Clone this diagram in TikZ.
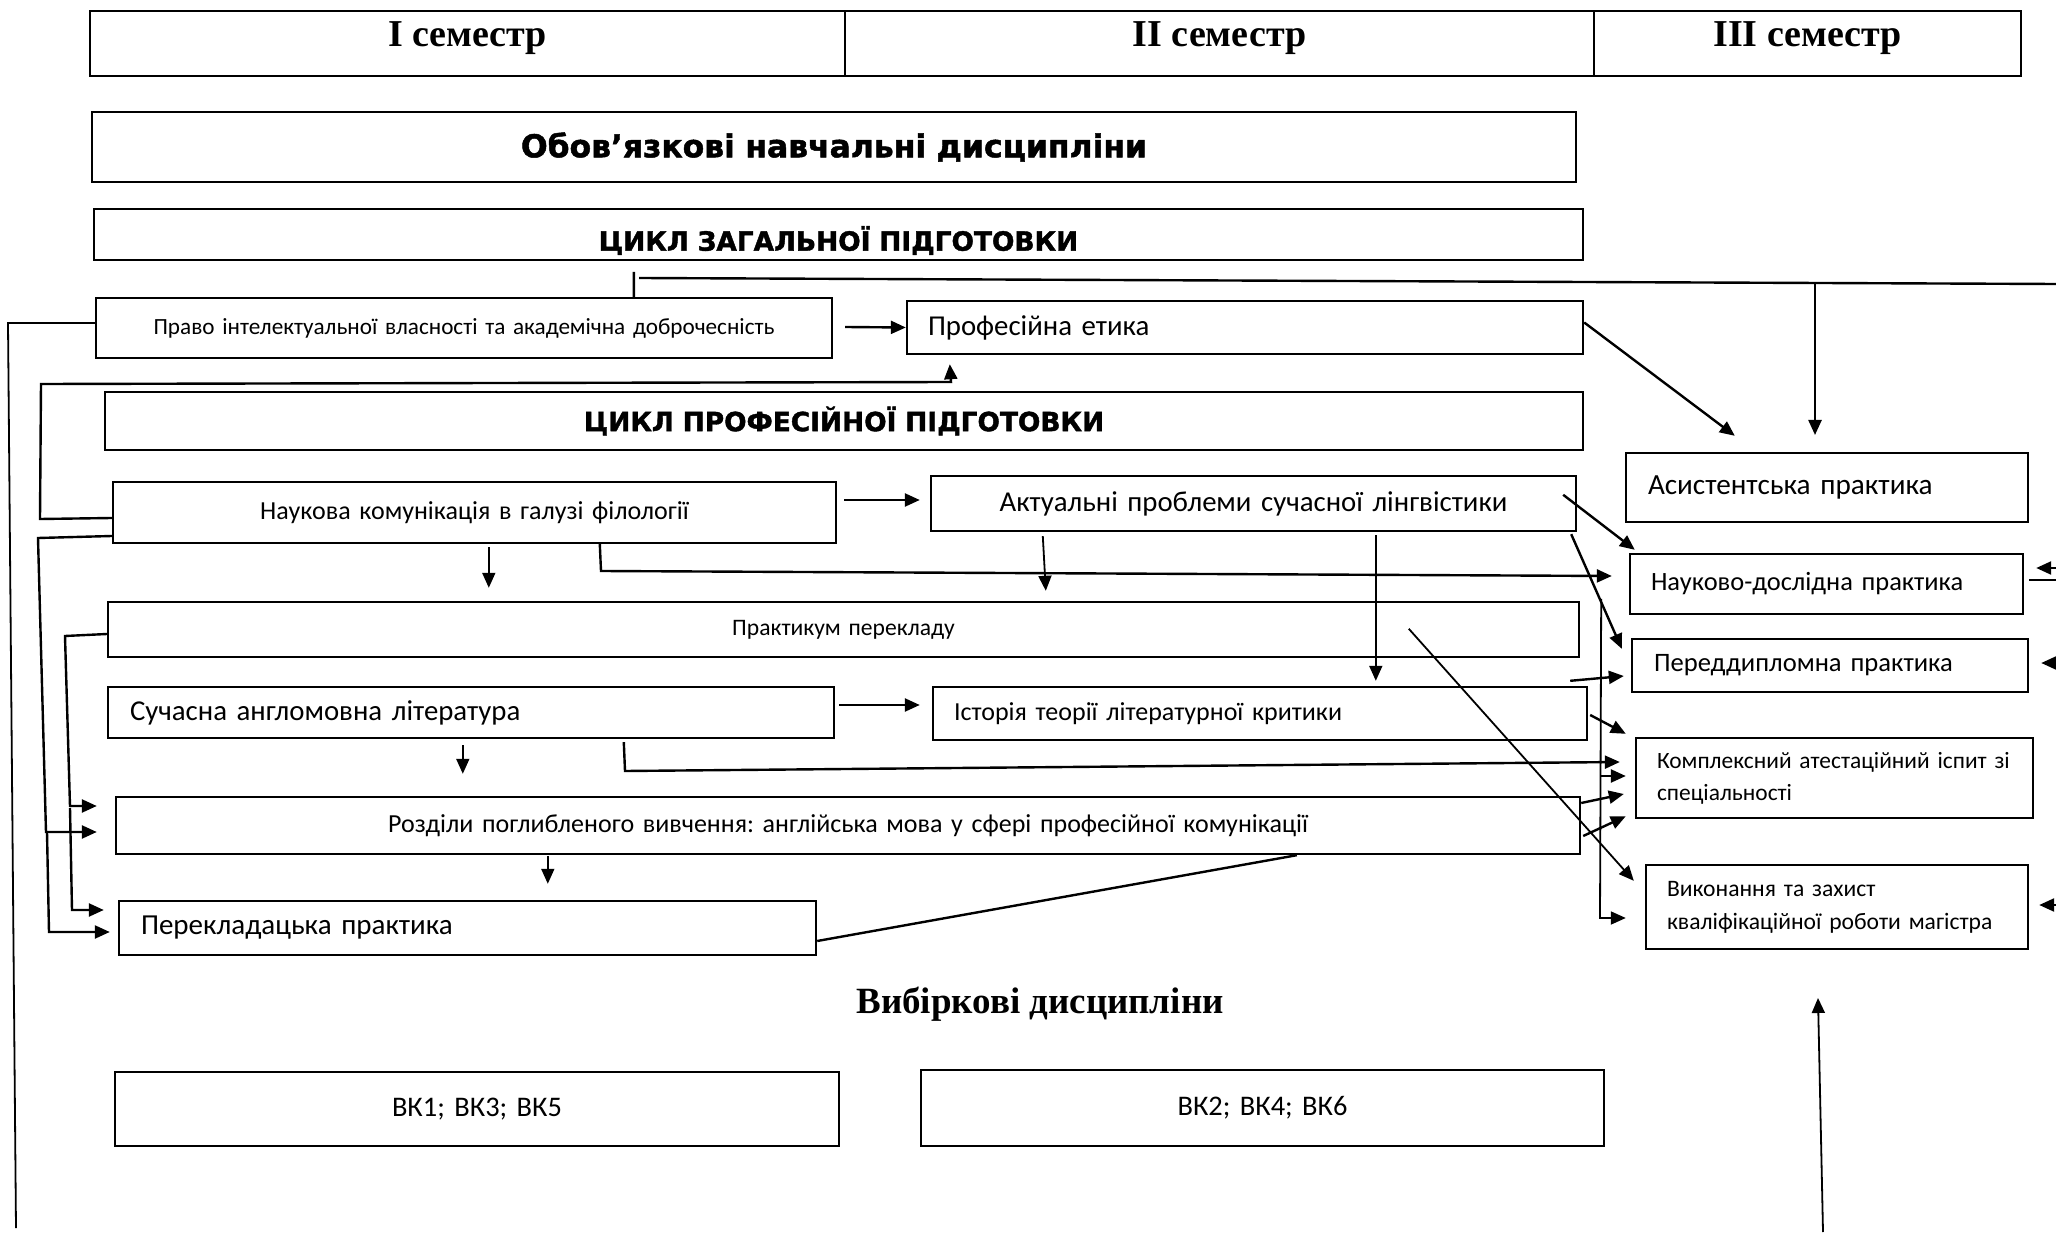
\documentclass[tikz,border=0pt]{standalone}
\usepackage{fontspec}
\setmainfont{Carlito}
\newfontfamily\djv{DejaVu Sans}[BoldFeatures={FakeBold=1.5}]
\newfontfamily\lser{Liberation Serif}
\usetikzlibrary{arrows.meta,calc}
\frenchspacing
\newcommand\fsz[2]{\fontsize{#1pt}{#2pt}\selectfont}
\newcommand\bnode[8]{%
  \pgfmathsetmacro\bw{(#4-#2-2*#6)*0.5}%
  \pgfmathsetmacro\bh{(#5-#3)*0.5}%
  \pgfmathsetmacro\bp{#6*0.5}%
  \node[bx, inner xsep=\bp pt, text width=\bw pt, minimum height=\bh pt, #7] (#1) at ({(#2+#4)/2},{(#3+#5)/2}) {#8};}
\tikzset{
  bx/.style={draw, line width=1.2pt, rectangle, inner ysep=0pt, align=center},
  hd/.style={draw, line width=1.3pt, inner sep=0pt, text height=18pt, text depth=14.5pt,
    minimum height=32.5pt, font={\lser\bfseries\fsz{19}{22}}},
  cyc/.style={font={\djv\bfseries\fsz{13.2}{16}}},
  ln/.style={line width=1.2pt},
  lnt/.style={line width=0.9pt},
  ar/.style={line width=1.2pt, -{Triangle[length=7.5pt,width=6.5pt]}},
  art/.style={line width=0.9pt, -{Triangle[length=7.5pt,width=6.5pt]}}
}
\begin{document}
\begin{tikzpicture}[x=0.5pt,y=-0.5pt]
\useasboundingbox (0,0) rectangle (2056,1235);
\fill[white] (0,0) rectangle (2056,1235);

% header
\node[hd, minimum width=377.5pt] (s1) at (467.5,43.5) {I семестр};
\node[hd, minimum width=374.5pt] (s2) at (1219.5,43.5) {II семестр};
\node[hd, minimum width=213.5pt] (s3) at (1807.5,43.5) {III семестр};

% boxes
\bnode{oblig}{92}{112}{1576}{182}{10}{font={\djv\bfseries\fsz{15.7}{18}}}{Обов’язкові навчальні дисципліни}
\bnode{zag}{94}{209}{1583}{260}{10}{cyc}{\raisebox{-3pt}[\height][\depth]{ЦИКЛ ЗАГАЛЬНОЇ ПІДГОТОВКИ}}
\bnode{pravo}{96}{298}{832}{358}{10}{font={\fsz{11.6}{14}}}{Право інтелектуальної власності та академічна доброчесність}
\bnode{etyka}{907}{301}{1583}{354}{21}{align=left, font={\fsz{14.4}{17}}}{Професійна етика}
\bnode{prof}{105}{392}{1583}{450}{10}{cyc}{ЦИКЛ ПРОФЕСІЙНОЇ ПІДГОТОВКИ}
\bnode{nauk}{113}{482}{836}{543}{10}{font={\fsz{13}{16}}}{Наукова комунікація в галузі філології}
\bnode{aktu}{931}{476}{1576}{531}{10}{font={\fsz{14.4}{17}}}{Актуальні проблеми сучасної лінгвістики}
\bnode{prak}{108}{602}{1579}{657}{10}{font={\fsz{11.8}{14}}}{Практикум перекладу}
\bnode{such}{108}{687}{834}{738}{22}{align=left, font={\fsz{14.4}{17}}}{Сучасна англомовна література}
\bnode{ist}{933}{687}{1587}{740}{21}{align=left, font={\fsz{13}{16}}}{Історія теорії літературної критики}
\bnode{rozd}{116}{797}{1580}{854}{10}{font={\fsz{13}{16}}}{Розділи поглибленого вивчення: англійська мова у сфері професійної комунікації}
\bnode{perek}{119}{901}{816}{955}{22}{align=left, font={\fsz{14.5}{17}}}{Перекладацька практика}
\bnode{asyst}{1626}{453}{2028}{522}{22}{align=left, font={\fsz{14.6}{17}}}{Асистентська практика}
\bnode{nd}{1630}{554}{2023}{614}{21}{align=left, font={\fsz{13.2}{16}}}{Науково-дослідна практика}
\bnode{pd}{1632}{639}{2028}{692}{22}{align=left, font={\fsz{13.3}{16}}}{Переддипломна практика}
\bnode{kompl}{1636}{738}{2033}{818}{21}{align=left, font={\fsz{11.7}{16}}}{Комплексний атестаційний іспит зі\\спеціальності}
\bnode{vyk}{1646}{865}{2028}{949}{21}{align=left, font={\fsz{11.8}{16.5}}}{Виконання та захист\\кваліфікаційної роботи магістра}
\bnode{vk1}{115}{1072}{839}{1146}{10}{font={\fsz{14.2}{17}}}{ВК1; ВК3; ВК5}
\bnode{vk2}{921}{1070}{1604}{1146}{10}{font={\fsz{14.2}{17}}}{ВК2; ВК4; ВК6}
\node[font={\lser\bfseries\fsz{18.5}{22}}, anchor=base, inner sep=0pt] (vyb) at (1040,1013) {Вибіркові дисципліни};

% free coordinates
\coordinate (tr) at (2056,284);
\coordinate (a1) at (1815,283);
\coordinate (a2) at (1815,435);
\coordinate (b1) at (1823,1232);
\coordinate (b2) at (1818,998);

% connectors
\draw[ar] ($(pravo.east)+(12,-1)$) -- (etyka.west);
\draw[ln] ($(pravo.north west)+(539,2)$) -- ++(0,-27) (639,278) -- (tr);
\draw[ar] (a1) -- (a2);
\draw[ar] ($(etyka.east)+(0,-5)$) -- ($(asyst.north west)+(110,-16)$);
\draw[ar] ($(nauk.west)+(0,5.5)$) -- (40,519) -- (41,384) -- (951,382) -- ($(etyka.south west)+(44,9)$);
\draw[lnt] ($(pravo.west)+(0,-5)$) -- (8,323) -- (16,1228);
\draw[ar] ($(nauk.west)+(0,23.5)$) -- (38,538) -- (46,832) -- ($(rozd.west)+(-18,6.5)$);
\draw[ar] (47,832) -- (49,932) -- ($(perek.west)+(-8,4)$);
\draw[ar] ($(prak.west)+(0,4.5)$) -- (65,636) -- (70,806) -- ($(rozd.west)+(-18,-19.5)$);
\draw[ar] (70,808) -- (72,910) -- ($(perek.west)+(-14,-18)$);
\draw[ar] ($(nauk.east)+(7,-12.5)$) -- ($(aktu.west)+(-10,-3.5)$);
\draw[art] ($(nauk.south west)+(377,3)$) -- ($(prak.north west)+(382,-13)$);
\draw[ar] ($(nauk.south west)+(488,0)$) -- (601,571) -- ($(nd.west)+(-17,-8)$);
\draw[art] ($(aktu.south west)+(113,4)$) -- ($(prak.north west)+(939,-10)$);
\draw[art] ($(aktu.south west)+(446,3)$) -- ($(ist.north west)+(444,-5)$);
\draw[ar] ($(aktu.north east)+(-14,20)$) -- ($(nd.north west)+(6,-3)$);
\draw[ar] ($(aktu.south east)+(-6,2)$) -- ($(pd.north west)+(-9,11)$);
\draw[ar] ($(ist.north east)+(-18,-5)$) -- ($(pd.west)+(-7,10.5)$);
\draw[ar] ($(ist.east)+(2,1.5)$) -- ($(kompl.north west)+(-9,-3)$);
\draw[art] ($(prak.north west)+(1302,28)$) -- ($(vyk.north west)+(-11,17)$);
\draw[art] ($(prak.north east)+(21,-2)$) -- (1600,918) -- ($(vyk.west)+(-19,11)$);
\draw[ar] (1601,776) -- ($(kompl.west)+(-9,-2)$);
\draw[ar] ($(such.south west)+(517,3)$) -- (625,771) -- ($(kompl.west)+(-15,-16)$);
\draw[ar] ($(such.east)+(4,-7.5)$) -- ($(ist.west)+(-12,-8.5)$);
\draw[art] ($(such.south west)+(356,6)$) -- ($(rozd.north west)+(348,-22)$);
\draw[ar] ($(rozd.east)+(0,-22.5)$) -- ($(kompl.west)+(-11,16)$);
\draw[ar] ($(rozd.east)+(2,10.5)$) -- ($(kompl.south west)+(-9,-3)$);
\draw[art] ($(rozd.south west)+(433,1)$) -- ($(perek.north west)+(430,-16)$);
\draw[ln] ($(perek.east)+(0,13)$) -- ($(rozd.south west)+(1182,0)$);
\draw[art] (b1) -- (b2);
\draw[ar] (2062,568) -- ($(nd.east)+(12,-16)$);
\draw[ln] ($(nd.east)+(5,-4)$) -- (2062,580);
\draw[ar] (2062,663) -- ($(pd.east)+(12,-2.5)$);
\draw[ar] (2062,905) -- ($(vyk.east)+(10,-2)$);
\end{tikzpicture}
\end{document}
